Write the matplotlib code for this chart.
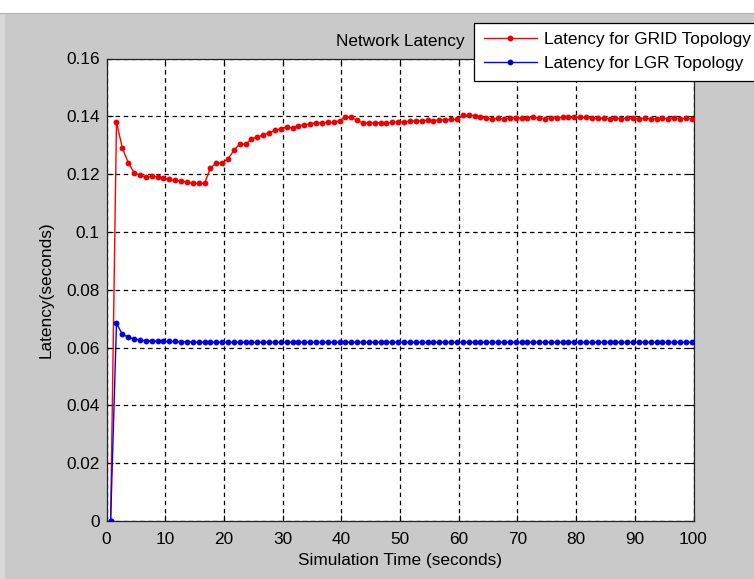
import numpy as np
import matplotlib
matplotlib.use("Agg")
import matplotlib.pyplot as plt
from matplotlib.patches import Rectangle

# sampled latency, one sample per second starting at t = 0.7 s
sample_start = 0.7
sample_step = 1.0

grid_latency = [
    0.0, 0.138, 0.129, 0.124, 0.1205, 0.1196, 0.119, 0.1192, 0.119, 0.1186,
    0.1182, 0.1178, 0.1176, 0.1172, 0.1168, 0.1168, 0.1168, 0.1221, 0.1238, 0.1238,
    0.1253, 0.1282, 0.1305, 0.1303, 0.1322, 0.1328, 0.1336, 0.1343, 0.1351, 0.1357,
    0.1363, 0.136, 0.1368, 0.137, 0.1374, 0.1377, 0.1378, 0.1379, 0.1379, 0.1385,
    0.1398, 0.1396, 0.1386, 0.1377, 0.1376, 0.1377, 0.1378, 0.1376, 0.1379, 0.1381,
    0.138, 0.1383, 0.1384, 0.1385, 0.1386, 0.1385, 0.1388, 0.1387, 0.1389, 0.1389,
    0.1403, 0.1404, 0.1402, 0.1398, 0.1393, 0.1391, 0.1393, 0.1391, 0.1394, 0.1395,
    0.1393, 0.1395, 0.1396, 0.1394, 0.1392, 0.1394, 0.1395, 0.1397, 0.1397, 0.1396,
    0.1397, 0.1396, 0.1394, 0.1393, 0.1394, 0.1392, 0.1393, 0.1392, 0.1394, 0.1393,
    0.1392, 0.1393, 0.1391, 0.1392, 0.1393, 0.1392, 0.1394, 0.1392, 0.1393, 0.1392,
]

lgr_latency = [
    0.0, 0.0684, 0.0646, 0.0636, 0.063, 0.0626, 0.0624, 0.0622, 0.0622, 0.0621,
    0.0621, 0.0621, 0.062, 0.062, 0.0619, 0.0618, 0.0618, 0.0618, 0.0618, 0.0618,
    0.0618, 0.0618, 0.0618, 0.0618, 0.0618, 0.0618, 0.0618, 0.0618, 0.0618, 0.0618,
    0.0618, 0.0618, 0.0618, 0.0618, 0.0618, 0.0618, 0.0618, 0.0618, 0.0618, 0.0618,
    0.0618, 0.0618, 0.0618, 0.0618, 0.0618, 0.0618, 0.0618, 0.0618, 0.0618, 0.0618,
    0.0618, 0.0618, 0.0618, 0.0618, 0.0618, 0.0618, 0.0618, 0.0618, 0.0618, 0.0618,
    0.0618, 0.0618, 0.0618, 0.0618, 0.0618, 0.0618, 0.0618, 0.0618, 0.0618, 0.0618,
    0.0618, 0.0618, 0.0618, 0.0618, 0.0618, 0.0618, 0.0618, 0.0618, 0.0618, 0.0618,
    0.0618, 0.0618, 0.0618, 0.0618, 0.0618, 0.0618, 0.0618, 0.0618, 0.0618, 0.0618,
    0.0618, 0.0618, 0.0618, 0.0618, 0.0618, 0.0618, 0.0618, 0.0618, 0.0618, 0.0618,
]

xticks = [0, 10, 20, 30, 40, 50, 60, 70, 80, 90, 100]
yticks = [0, 0.02, 0.04, 0.06, 0.08, 0.1, 0.12, 0.14, 0.16]
ytick_labels = ["0", "0.02", "0.04", "0.06", "0.08", "0.1", "0.12", "0.14", "0.16"]

time = sample_start + sample_step * np.arange(len(grid_latency))

plt.rcParams['font.family'] = ['Liberation Sans', 'DejaVu Sans']
fs = 12.4

fig = plt.figure(figsize=(7.54, 5.79), dpi=100, facecolor='#c9c9c9')
# light strip along the top and left edge of the window
fig.patches.append(Rectangle((0, 1 - 13/579), 1, 13/579, transform=fig.transFigure,
                             facecolor='white', edgecolor='none', zorder=0))
fig.patches.append(Rectangle((0, 1 - 14/579), 1, 1/579, transform=fig.transFigure,
                             facecolor='#b0b0b0', edgecolor='none', zorder=0))
fig.patches.append(Rectangle((0, 0), 5/754, 1 - 14/579, transform=fig.transFigure,
                             facecolor='#d8d8d8', edgecolor='none', zorder=0))

ax = fig.add_axes([106.5/754, 1 - 521/579, (693.5 - 106.5)/754, (521 - 58.5)/579])
ax.set_facecolor('white')

ax.plot(time, grid_latency, color='#ff0000', lw=1.0, marker='o', ms=3.2,
        mec='#ee0000', mfc='#ee0000', label='Latency for GRID Topology', zorder=3)
ax.plot(time, lgr_latency, color='#0000ff', lw=1.0, marker='o', ms=3.2,
        mec='#0000dd', mfc='#0000dd', label='Latency for LGR Topology', zorder=3)

ax.set_xlim(0, 100)
ax.set_ylim(0, 0.16)
ax.set_xticks(xticks)
ax.set_yticks(yticks)
ax.set_yticklabels(ytick_labels)
ax.tick_params(direction='in', length=4.5, width=0.8, top=True, right=True,
               labelsize=fs)
ax.tick_params(axis='x', pad=8)
ax.tick_params(axis='y', pad=5)
ax.grid(True, color='black', linestyle=(0, (3.6, 2.9)), linewidth=0.9)
for s in ax.spines.values():
    s.set_linewidth(0.9)
    s.set_color('#222222')

ax.set_xlabel('Simulation Time (seconds)', fontsize=fs, labelpad=4)
ax.set_ylabel('Latency(seconds)', fontsize=fs, labelpad=9)
ax.set_title('Network Latency', fontsize=fs, pad=9)

leg = ax.legend(loc='upper left', bbox_to_anchor=(474/754, 1 - 22.5/579),
                bbox_transform=fig.transFigure, fontsize=fs, numpoints=1,
                handlelength=3.1, handletextpad=0.4, borderpad=0.56,
                labelspacing=0.5, fancybox=False, framealpha=1,
                edgecolor='black', borderaxespad=0)
leg.get_frame().set_linewidth(0.9)

fig.savefig('out.png', dpi=100, facecolor=fig.get_facecolor())
